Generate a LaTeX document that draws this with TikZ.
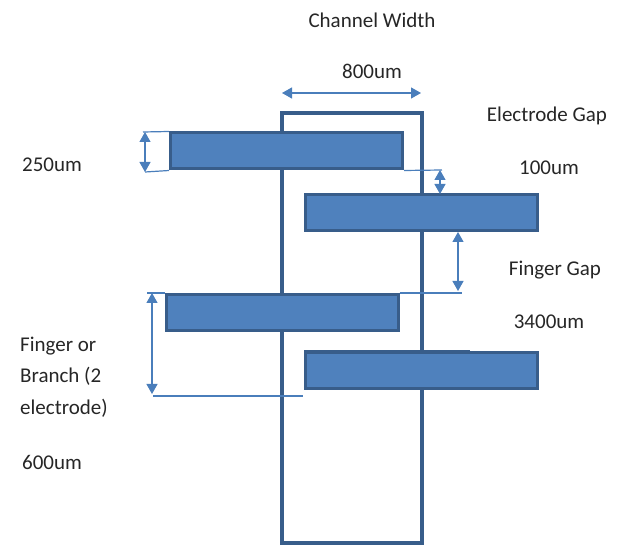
\documentclass[tikz,border=0pt]{standalone}
\usepackage{fontspec}
\setmainfont{Carlito}
\usetikzlibrary{arrows.meta}
\definecolor{elfill}{HTML}{4F81BD}
\definecolor{eldraw}{HTML}{385D8A}
\definecolor{dimblue}{HTML}{4A7EBB}
\begin{document}
\begin{tikzpicture}[x=1pt,y=-1pt,
	electrode/.style={draw=eldraw,fill=elfill,line width=3pt,minimum width=232pt,minimum height=36pt,inner sep=0pt},
	channel/.style={draw=eldraw,line width=3.2pt},
	dimline/.style={draw=dimblue,line width=1.2pt},
	dimarrow/.style={dimline,{Triangle[width=11pt,length=10pt]}-{Triangle[width=11pt,length=10pt]}},
	lbl/.style={text=black!85,font=\fontsize{21}{31.5}\selectfont,inner sep=0pt}]
			\useasboundingbox (0,0) rectangle (622,545);
			
			% channel
			\draw[channel] (282,113) rectangle (422,543);
			
			% electrodes
			\node[electrode] (e1) at (286.5,151) {};
			\node[electrode] (e2) at (421,213) {};
			\node[electrode] (e3) at (282,312.5) {};
			\node[electrode] (e4) at (421,370.5) {};
			\draw[eldraw,line width=1.2pt] (304,351) -- (470,351);
			
			% dimensions
			\coordinate (cw1) at (282,93);
			\coordinate (cw2) at (421,93);
			\draw[dimarrow] (cw1) -- (cw2);
			
			\coordinate (t1) at (145,132);
			\coordinate (t2) at (145,172);
			\draw[dimline] (143,132) -- (e1.north west);
			\draw[dimline] (t2) -- (e1.south west);
			\draw[dimarrow] (t1) -- (t2);
			
			\coordinate (g1) at (442,170);
			\draw[dimline] (e1.south east) -- (g1);
			\draw[dimarrow] (440,170) -- (440,194);
			
			\coordinate (f1) at (462,293);
			\draw[dimline] (e3.north east) -- (f1);
			\draw[dimarrow] (458,232) -- (458,291);
			
			\coordinate (b1) at (152,293);
			\coordinate (b2) at (152,394);
			\draw[dimline] (147,293) -- (e3.north west);
			\draw[dimline] (153,396) -- (303,396);
			\draw[dimarrow] (b1) -- (b2);
			
			% labels
			\node[lbl] (chw) at (372,20) {Channel Width};
			\node[lbl] (chv) at (372,71) {800um};
			\node[lbl] (egw) at (547,116) {Electrode Gap};
			\node[lbl] (egv) at (549,168) {100um};
			\node[lbl] (fgw) at (555,270) {Finger Gap};
			\node[lbl] (fgv) at (549,322) {3400um};
			\node[lbl] (thv) at (52,165) {250um};
			\node[lbl,align=left,anchor=west] (brw) at (20,377) {Finger or\\Branch (2\\electrode)};
			\node[lbl] (brv) at (52,462) {600um};
		\end{tikzpicture}
\end{document}
